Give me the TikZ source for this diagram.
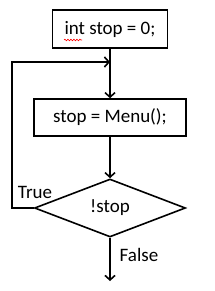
\documentclass[tikz,border=0pt]{standalone}
\usepackage{fontspec}
\setmainfont{Carlito}
\usetikzlibrary{arrows.meta,shapes.geometric,decorations.pathmorphing}
\begin{document}
\begin{tikzpicture}[x=1pt,y=-1pt,line width=1.6pt,
  box/.style={draw,inner sep=0pt,font=\fontsize{19}{22}\selectfont},
  arr/.style={-{Straight Barb[length=4.5pt,width=10pt]}},
  lbl/.style={font=\fontsize{19}{22}\selectfont,inner sep=0pt}]
\useasboundingbox (0,0) rectangle (214,291);
\node[box,minimum width=115pt,minimum height=38pt] (b1) at (110,29) {int stop = 0;};
\node[box,minimum width=152pt,minimum height=37pt] (b2) at (110,117.5) {stop = Menu();};
\node[box,diamond,aspect=2.6,minimum width=151pt,minimum height=58pt] (d) at (110,208) {\raisebox{-3pt}{!stop}};
\coordinate (j) at (110,62);
\coordinate (e) at (110,281);
\draw[arr] (b1.south) -- (b2.north);
\draw[arr] (b2.south) -- (d.north);
\draw[arr] (d.west) -- ++(-22,0) |- (j);
\draw[arr] (d.south) -- (e);
\node[lbl] (t) at (35,192) {True};
\node[lbl] (f) at (139,255) {False};
\draw[red,line width=0.6pt,decorate,decoration={snake,segment length=3pt,amplitude=0.8pt}] (64,40) -- (82,40);
\end{tikzpicture}
\end{document}
